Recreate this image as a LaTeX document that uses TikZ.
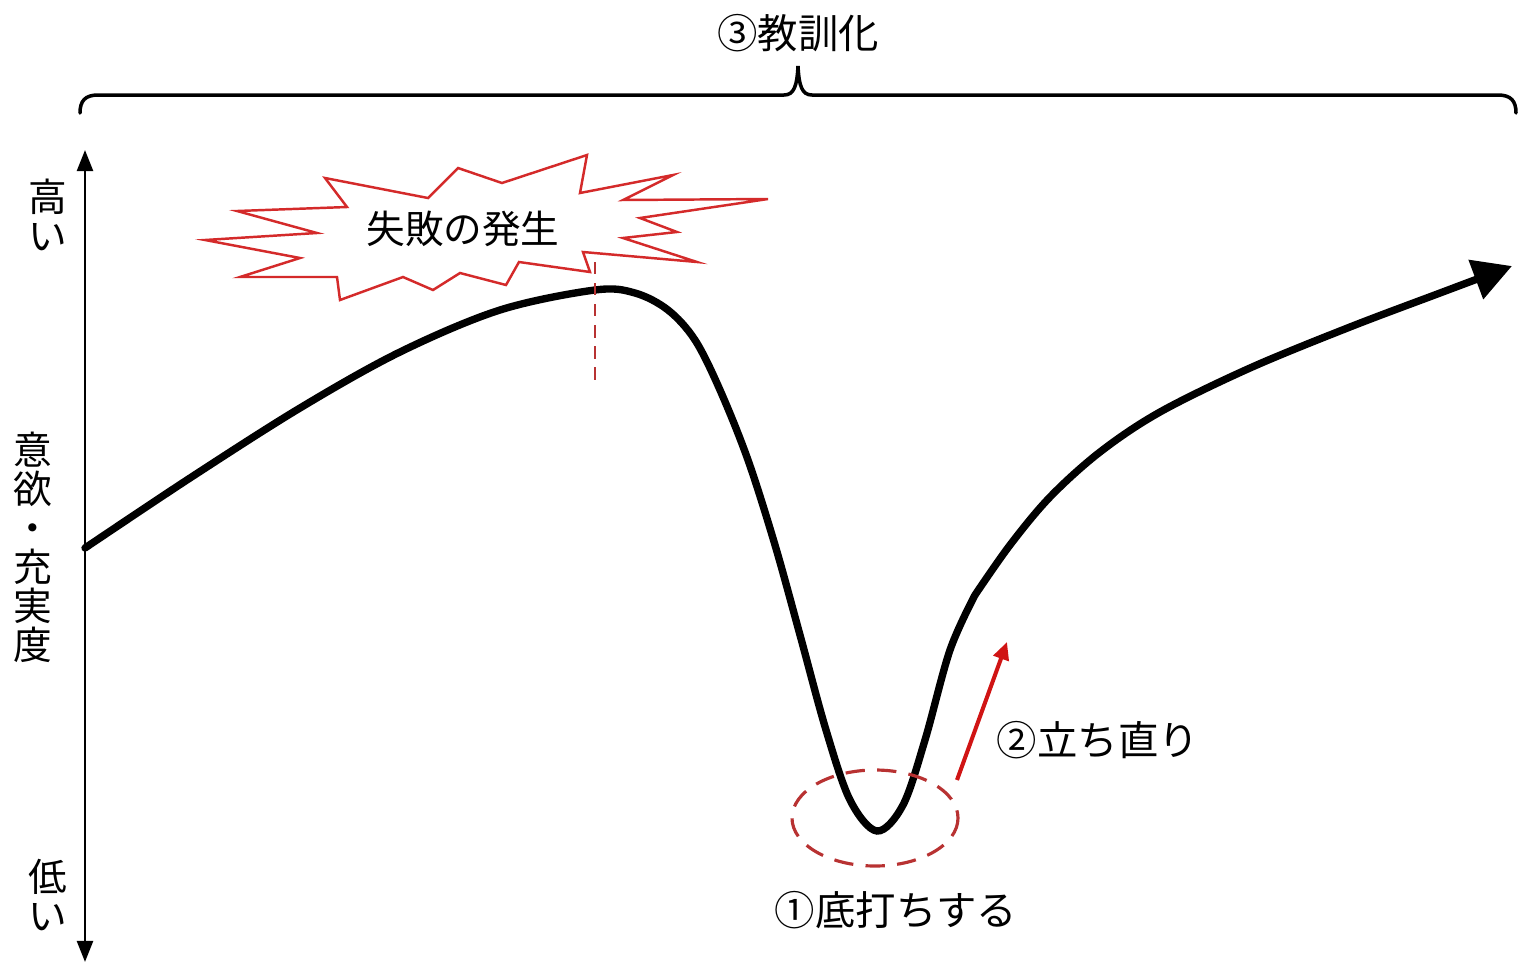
\documentclass[tikz,border=0pt]{standalone}
\usepackage{fontspec}
\setmainfont{Noto Sans CJK JP}
\usetikzlibrary{arrows.meta}
\definecolor{burstred}{HTML}{D42A2A}
\definecolor{dashred}{HTML}{B83232}
\definecolor{arrred}{HTML}{D01414}
\begin{document}
\begin{tikzpicture}[x=0.02cm,y=-0.02cm,
  lbl/.style={font=\fontsize{23pt}{28pt}\selectfont, inner sep=0pt, text=black},
  vlbl/.style={font=\fontsize{22pt}{0.78cm}\selectfont, align=center, inner sep=0pt, text=black},
  axisline/.style={line width=1.7pt, {Triangle[width=9pt,length=12pt]}-{Triangle[width=9pt,length=12pt]}},
  bracestyle/.style={line width=2pt, line cap=round},
  burst/.style={draw=burstred, line width=1.4pt, fill=white, line join=miter},
  mainline/.style={line width=4.2pt, line cap=round, -{Triangle[width=23pt,length=22pt]}},
  markline/.style={draw=dashred, line width=1.5pt, dash pattern=on 7pt off 5pt},
  ringstyle/.style={draw=dashred, line width=1.8pt, dash pattern=on 11pt off 7pt},
  upline/.style={draw=arrred, line width=2.3pt, -{Triangle[width=9pt,length=10pt]}}]
\useasboundingbox (0,0) rectangle (1519,965);

% brace
\draw[bracestyle] (80,113) .. controls (80,101) and (85,95) .. (98,95)
  -- (784,95) .. controls (794,95) and (797,86) .. (798,66)
  .. controls (799,86) and (802,95) .. (812,95)
  -- (1498,95) .. controls (1511,95) and (1516,101) .. (1516,113);
\node[lbl] (kyokun) at (798,33) {③教訓化};

% axis
\coordinate (axtop) at (85,150);
\coordinate (axbot) at (85,962);
\draw[axisline] (axbot) -- (axtop);
\node[vlbl] (high) at (48,215) {高\\い};
\node[vlbl] (yoku) at (33,547) {意\\欲\\・\\充\\実\\度};
\node[vlbl] (low) at (48,895) {低\\い};

% main curve
\coordinate (kink) at (975,595);
\coordinate (peak) at (595,290);
\coordinate (bottom) at (877,831);
\draw[mainline] plot[smooth, tension=0.55] coordinates {
  (85,548) (190,478) (300,408) (400,352) (500,310) (595,290) (635,293)
  (668,310) (695,340) (720,390) (748,460) (775,545) (800,635) (826,730)
  (850,800) (877,831) (903,805) (925,740) (950,650) (975,595)}
  -- plot[smooth, tension=0.55] coordinates {
  (975,595) (1010,545) (1050,497) (1100,452) (1160,412) (1250,368)
  (1350,327) (1440,293) (1512,266)};

% burst
\draw[burst] (205,240) -- (317,233) -- (237,211) -- (347,207) -- (325,178)
  -- (428,198) -- (458,168) -- (502,183) -- (587,155) -- (580,193)
  -- (673,175) -- (623,200) -- (768,199) -- (640,218) -- (677,232)
  -- (623,238) -- (697,262) -- (583,252) -- (590,272) -- (519,262)
  -- (506,285) -- (460,273) -- (433,290) -- (403,277) -- (340,300)
  -- (337,277) -- (240,277) -- (300,258) -- cycle;
\node[lbl, font=\fontsize{22pt}{26pt}\selectfont] (failure) at (463,229) {失敗の発生};
\coordinate (marktop) at (595,262);
\coordinate (markbot) at (595,380);
\draw[markline] (marktop) -- (markbot);

% bottom ring
\draw[ringstyle] (bottom) ++(-2,-13) coordinate (ringc) ellipse [x radius=83, y radius=48];

% recovery arrow
\coordinate (upstart) at (957,780);
\coordinate (upend) at (1007,642);
\draw[upline] (upstart) -- (upend);
\node[lbl] (recover) at (1098,740) {②立ち直り};
\node[lbl] (bottoming) at (896,910) {①底打ちする};
\end{tikzpicture}
\end{document}
